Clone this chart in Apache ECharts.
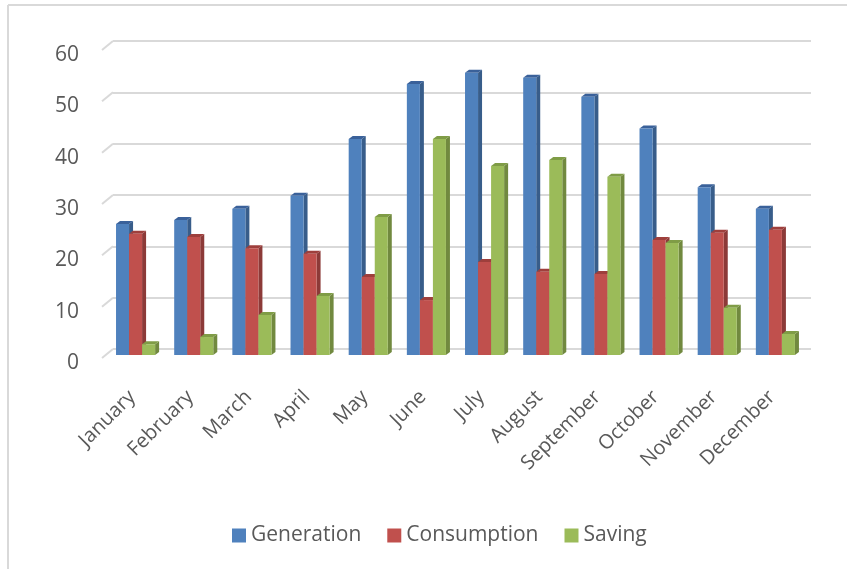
<!DOCTYPE html>
<html>
<head>
<meta charset="utf-8">
<script src="https://cdn.jsdelivr.net/npm/echarts@6/dist/echarts.min.js"></script>
<style>
html,body{margin:0;padding:0;background:#fff;}
#chart{width:847px;height:569px;}
</style>
</head>
<body>
<div id="chart"></div>
<script>
var months = ['January','February','March','April','May','June','July','August','September','October','November','December'];
var generation = [25.5, 26.3, 28.5, 31.0, 42.1, 52.8, 55.0, 54.0, 50.3, 44.1, 32.7, 28.5];
var consumption = [23.6, 23.0, 20.8, 19.7, 15.2, 10.7, 18.1, 16.2, 15.8, 22.4, 23.8, 24.4];
var saving = [2.1, 3.5, 7.8, 11.5, 26.9, 42.1, 36.8, 38.0, 34.7, 21.8, 9.2, 4.1];
var yTicks = [0, 10, 20, 30, 40, 50, 60];

var seriesNames = ['Generation', 'Consumption', 'Saving'];
var seriesData = [generation, consumption, saving];
var faceColors = [
  {front: '#4F81BD', side: '#385D8A', top: '#3A619A'},
  {front: '#C0504D', side: '#8C3A38', top: '#9E3F3C'},
  {front: '#9BBB59', side: '#71893F', top: '#7F9C46'}
];

var textColor = '#595959';
var fontFam = '"Open Sans", "DejaVu Sans", sans-serif';

function makeBarRender(si) {
  return function (params, api) {
    var idx = api.value(0);
    var v = api.value(1);
    var band = api.size([1, 0])[0];
    var base = api.coord([idx, 0]);
    var topPt = api.coord([idx, v]);
    var barW = band * 0.224;
    var groupShift = -band * 0.112;
    var frontDy = 6;
    var dx = 4, dy = -3;
    var x0 = base[0] + groupShift - 1.5 * barW + si * barW;
    var x1 = x0 + barW;
    var yb = base[1] + frontDy;
    var yt = topPt[1] + frontDy;
    var c = faceColors[si];
    return {
      type: 'group',
      children: [
        {type: 'polygon', shape: {points: [[x1, yb], [x1 + dx, yb + dy], [x1 + dx, yt + dy], [x1, yt]]},
          style: {fill: c.side}},
        {type: 'polygon', shape: {points: [[x0, yt], [x0 + dx, yt + dy], [x1 + dx, yt + dy], [x1, yt]]},
          style: {fill: c.top}},
        {type: 'rect', shape: {x: x0, y: yt, width: barW, height: yb - yt},
          style: {fill: c.front}}
      ]
    };
  };
}

var series = [];
series.push({
  type: 'custom',
  name: 'slants',
  silent: true,
  z: 1,
  data: yTicks.map(function (t) { return [0, t]; }),
  renderItem: function (params, api) {
    var cs = params.coordSys;
    var p = api.coord([0, api.value(1)]);
    return {
      type: 'line',
      shape: {x1: cs.x - 11, y1: p[1] + 9, x2: cs.x, y2: p[1]},
      style: {stroke: '#D9D9D9', lineWidth: 2}
    };
  }
});
for (var s = 0; s < 3; s++) {
  series.push({
    type: 'custom',
    name: seriesNames[s],
    z: 2 + s,
    itemStyle: {color: faceColors[s].front},
    data: seriesData[s].map(function (v, i) { return [i, v]; }),
    encode: {x: 0, y: 1},
    renderItem: makeBarRender(s)
  });
}

var chart = echarts.init(document.getElementById('chart'), null, {renderer: 'canvas'});
chart.setOption({
  animation: false,
  backgroundColor: '#ffffff',
  graphic: [
    {type: 'line', shape: {x1: 8, y1: 5, x2: 847, y2: 5}, style: {stroke: '#D9D9D9', lineWidth: 2}, silent: true},
    {type: 'line', shape: {x1: 8, y1: 5, x2: 8, y2: 569}, style: {stroke: '#D9D9D9', lineWidth: 2}, silent: true}
  ],
  grid: {left: 113, right: 36, top: 41, bottom: 220, containLabel: false},
  legend: {
    data: seriesNames,
    left: 232,
    top: 525,
    padding: 0,
    icon: 'rect',
    itemWidth: 14,
    itemHeight: 14,
    itemGap: 26,
    textStyle: {color: textColor, fontSize: 21, fontFamily: fontFam}
  },
  xAxis: {
    type: 'category',
    data: months,
    axisLine: {show: false},
    axisTick: {show: false},
    splitLine: {show: false},
    axisLabel: {
      interval: 0,
      rotate: 45,
      margin: 35,
      padding: [0, 14, 0, 0],
      color: textColor,
      fontSize: 20,
      fontFamily: fontFam
    }
  },
  yAxis: {
    type: 'value',
    min: 0,
    max: 60,
    interval: 10,
    axisLine: {show: false},
    axisTick: {show: false},
    splitLine: {lineStyle: {color: '#D9D9D9', width: 2}},
    axisLabel: {
      margin: 34,
      verticalAlign: 'top',
      lineHeight: 28,
      color: textColor,
      fontSize: 21,
      fontFamily: fontFam
    }
  },
  series: series
});
</script>
</body>
</html>
